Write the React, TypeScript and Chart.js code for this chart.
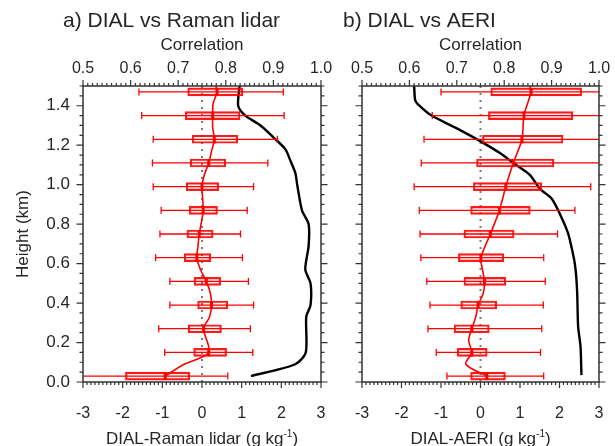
import React, { useEffect, useRef } from 'react';
import { Chart, registerables } from 'chart.js';

Chart.register(...registerables);

const FONT = "'Liberation Sans', Arial, Helvetica, sans-serif";
const TEXT = '#262626';
const RED = '#ff0000';

// Heights (km) of the box plots
const boxHeights = [0.03, 0.15, 0.27, 0.39, 0.51, 0.63, 0.75, 0.87, 0.99, 1.11, 1.23, 1.35, 1.47];

// Panel a: DIAL - Raman lidar (g/kg)
const ramanLow = [-3.2, -0.94, -1.09, -0.81, -0.81, -1.17, -1.06, -1.03, -1.23, -1.25, -1.23, -1.52, -1.59];
const ramanQ1 = [-1.93, -0.21, -0.35, -0.11, -0.2, -0.45, -0.38, -0.32, -0.4, -0.3, -0.25, -0.42, -0.36];
const ramanMedian = [-0.93, 0.17, 0.04, 0.24, 0.11, -0.13, -0.07, 0.03, 0.0, 0.17, 0.31, 0.27, 0.38];
const ramanQ3 = [-0.31, 0.62, 0.49, 0.65, 0.47, 0.22, 0.28, 0.39, 0.42, 0.6, 0.9, 0.96, 1.03];
const ramanHigh = [0.65, 1.28, 1.22, 1.3, 1.17, 1.02, 0.97, 1.14, 1.3, 1.66, 1.9, 2.07, 2.05];
const ramanProfileHeights = [0.03, 0.09, 0.15, 0.27, 0.33, 0.39, 0.45, 0.51, 0.57, 0.63, 0.69, 0.75, 0.87, 0.99, 1.05, 1.11, 1.17, 1.23, 1.29, 1.35, 1.41, 1.47, 1.5];
const ramanProfile = [-0.93, -0.45, 0.17, 0.04, 0.19, 0.24, 0.21, 0.11, -0.04, -0.13, -0.1, -0.07, 0.03, 0.0, 0.06, 0.17, 0.24, 0.31, 0.27, 0.27, 0.28, 0.38, 0.35];
const ramanCorrHeights = [0.03, 0.09, 0.15, 0.33, 0.39, 0.5, 0.57, 0.69, 0.8, 0.87, 1.0, 1.06, 1.12, 1.18, 1.24, 1.3, 1.35, 1.4, 1.5];
const ramanCorr = [0.853, 0.946, 0.968, 0.969, 0.978, 0.978, 0.967, 0.974, 0.974, 0.96, 0.95, 0.946, 0.936, 0.925, 0.9, 0.873, 0.841, 0.826, 0.829];

// Panel b: DIAL - AERI (g/kg)
const aeriLow = [-0.85, -1.12, -1.33, -1.28, -1.36, -1.51, -1.53, -1.55, -1.68, -1.5, -1.43, -1.22, -1.0];
const aeriQ1 = [-0.25, -0.59, -0.67, -0.5, -0.42, -0.56, -0.42, -0.25, -0.18, -0.1, 0.05, 0.2, 0.26];
const aeriMedian = [0.16, -0.22, -0.22, -0.06, 0.1, 0.01, 0.25, 0.48, 0.64, 0.83, 1.05, 1.1, 1.28];
const aeriQ3 = [0.63, 0.17, 0.22, 0.41, 0.64, 0.59, 0.85, 1.26, 1.55, 1.86, 2.09, 2.34, 2.56];
const aeriHigh = [1.6, 1.52, 1.55, 1.59, 1.64, 1.6, 1.95, 2.39, 2.79, 3.2, 3.2, 3.2, 3.2];
const aeriProfileHeights = [0.03, 0.09, 0.15, 0.21, 0.27, 0.33, 0.39, 0.45, 0.51, 0.57, 0.63, 0.75, 0.87, 0.99, 1.11, 1.23, 1.35, 1.47, 1.5];
const aeriProfile = [0.16, -0.37, -0.22, -0.3, -0.22, -0.12, -0.06, 0.07, 0.1, 0.05, 0.01, 0.25, 0.48, 0.64, 0.83, 1.05, 1.1, 1.28, 1.25];
const aeriCorrHeights = [0.035, 0.18, 0.28, 0.45, 0.533, 0.6, 0.65, 0.752, 0.854, 0.93, 0.98, 1.05, 1.11, 1.16, 1.217, 1.285, 1.35, 1.41, 1.43, 1.5];
const aeriCorr = [0.963, 0.961, 0.956, 0.954, 0.952, 0.949, 0.945, 0.935, 0.917, 0.9, 0.875, 0.854, 0.819, 0.791, 0.752, 0.7, 0.647, 0.617, 0.612, 0.61];

// Axis settings
const diffMin = -3;
const diffMax = 3;
const corrMin = 0.5;
const corrMax = 1.0;
const heightMin = 0;
const heightMax = 1.5;

type Panel = {
  title: string;
  titleX: number;
  xTitle: string;
  low: number[]; q1: number[]; median: number[]; q3: number[]; high: number[];
  profH: number[]; prof: number[];
  corrH: number[]; corr: number[];
  yLabels: boolean;
  leftW: number; rightW: number;
  width: number;
};

const panels: Panel[] = [
  {
    title: 'a) DIAL vs Raman lidar', titleX: 63, xTitle: 'DIAL-Raman lidar (g kg',
    low: ramanLow, q1: ramanQ1, median: ramanMedian, q3: ramanQ3, high: ramanHigh,
    profH: ramanProfileHeights, prof: ramanProfile, corrH: ramanCorrHeights, corr: ramanCorr,
    yLabels: true, leftW: 83, rightW: 20, width: 341,
  },
  {
    title: 'b) DIAL vs AERI', titleX: 2, xTitle: 'DIAL-AERI (g kg',
    low: aeriLow, q1: aeriQ1, median: aeriMedian, q3: aeriQ3, high: aeriHigh,
    profH: aeriProfileHeights, prof: aeriProfile, corrH: aeriCorrHeights, corr: aeriCorr,
    yLabels: false, leftW: 21, rightW: 16, width: 274,
  },
];

const hiddenTicks = (len: number) => ({
  display: true,
  drawOnChartArea: false,
  drawTicks: true,
  tickLength: len,
  color: 'rgba(0,0,0,0)',
});

function framePlugin(p: Panel) {
  return {
    id: 'frameAndText',
    afterDraw(chart: any) {
      const { ctx, chartArea: a, scales } = chart;
      ctx.save();
      ctx.strokeStyle = '#333';
      ctx.lineWidth = 1.5;
      ctx.strokeRect(a.left, a.top, a.right - a.left, a.bottom - a.top);
      ctx.lineWidth = 1.2;
      ctx.beginPath();
      for (let k = 0; k <= 30; k++) {
        const py = scales.y.getPixelForValue(k * 0.05);
        const L = k % 4 === 0 ? 6.5 : 3.5;
        ctx.moveTo(a.left, py); ctx.lineTo(a.left - L, py);
        ctx.moveTo(a.right, py); ctx.lineTo(a.right + L, py);
      }
      for (let k = -30; k <= 30; k++) {
        const px = scales.x.getPixelForValue(k / 10);
        const L = k % 10 === 0 ? 6 : 3;
        ctx.moveTo(px, a.bottom); ctx.lineTo(px, a.bottom + L);
      }
      for (let k = 50; k <= 100; k++) {
        const px = scales.x2.getPixelForValue(k / 100);
        const L = k % 10 === 0 ? 6 : 3;
        ctx.moveTo(px, a.top); ctx.lineTo(px, a.top - L);
      }
      ctx.stroke();

      // panel title
      ctx.fillStyle = TEXT;
      ctx.textBaseline = 'middle';
      ctx.textAlign = 'left';
      ctx.font = `21px ${FONT}`;
      ctx.fillText(p.title, p.titleX, 21.5);

      // bottom axis title with superscript
      const mainFont = `17px ${FONT}`;
      const supFont = `10px ${FONT}`;
      ctx.textBaseline = 'alphabetic';
      ctx.font = mainFont;
      const w1 = ctx.measureText(p.xTitle).width;
      const w3 = ctx.measureText(')').width;
      ctx.font = supFont;
      const w2 = ctx.measureText('-1').width;
      const cx = (a.left + a.right) / 2;
      let x0 = cx - (w1 + w2 + w3) / 2;
      ctx.font = mainFont;
      ctx.fillText(p.xTitle, x0, 444);
      x0 += w1;
      ctx.font = supFont;
      ctx.fillText('-1', x0, 437);
      x0 += w2;
      ctx.font = mainFont;
      ctx.fillText(')', x0, 444);
      ctx.restore();
    },
  };
}

function makeConfig(p: Panel): any {
  const whiskers: { x: number; y: number }[] = [];
  boxHeights.forEach((h, i) => {
    whiskers.push({ x: p.low[i], y: h }, { x: p.high[i], y: h }, { x: NaN, y: NaN });
  });
  return {
    type: 'bar',
    data: {
      datasets: [
        {
          type: 'line',
          data: boxHeights.map((h, i) => ({ x: p.median[i], y: h })),
          showLine: false,
          pointStyle: 'line',
          pointRotation: 90,
          pointRadius: 4,
          pointBorderWidth: 3,
          pointBorderColor: RED,
          borderColor: RED,
          xAxisID: 'x', yAxisID: 'y',
        },
        {
          type: 'line',
          data: p.profH.map((h, i) => ({ x: p.prof[i], y: h })),
          borderColor: RED,
          borderWidth: 1.6,
          pointRadius: 0,
          tension: 0.3,
          xAxisID: 'x', yAxisID: 'y',
        },
        {
          type: 'bar',
          data: boxHeights.map((h, i) => ({ x: [p.q1[i], p.q3[i]], y: h })),
          backgroundColor: 'rgba(255,0,0,0.05)',
          borderColor: 'rgba(255,0,0,0.9)',
          borderWidth: 1.5,
          borderSkipped: false,
          barThickness: 8,
          xAxisID: 'x', yAxisID: 'y',
        },
        {
          type: 'line',
          data: whiskers,
          borderColor: RED,
          borderWidth: 1.3,
          pointStyle: 'line',
          pointRotation: 90,
          pointRadius: 3.5,
          pointBorderWidth: 1.3,
          pointBorderColor: RED,
          spanGaps: false,
          clip: 0,
          xAxisID: 'x', yAxisID: 'y',
        },
        {
          type: 'line',
          data: p.corrH.map((h, i) => ({ x: p.corr[i], y: h })),
          borderColor: '#000',
          borderWidth: 2.4,
          pointRadius: 0,
          tension: 0.25,
          xAxisID: 'x2', yAxisID: 'y',
        },
        {
          type: 'line',
          data: [{ x: 0, y: heightMin }, { x: 0, y: heightMax }],
          borderColor: '#7a7a7a',
          borderWidth: 2,
          borderDash: [2, 5],
          pointRadius: 0,
          xAxisID: 'x', yAxisID: 'y',
        },
      ],
    },
    options: {
      responsive: false,
      animation: false,
      devicePixelRatio: 1,
      indexAxis: 'y',
      events: [],
      layout: { padding: 0 },
      plugins: { legend: { display: false }, tooltip: { enabled: false }, title: { display: false } },
      scales: {
        x: {
          type: 'linear', position: 'bottom', min: diffMin, max: diffMax, offset: false,
          grid: hiddenTicks(21.5), border: { display: false },
          ticks: { stepSize: 1, maxRotation: 0, autoSkip: false, padding: 0, color: TEXT, font: { size: 16, family: FONT } },
          afterFit: (s: any) => { s.height = 64; },
        },
        x2: {
          type: 'linear', position: 'top', min: corrMin, max: corrMax, offset: false,
          grid: { display: false }, border: { display: false },
          ticks: { stepSize: 0.1, maxRotation: 0, autoSkip: false, padding: 0, color: TEXT, font: { size: 16, family: FONT }, callback: (v: any) => Number(v).toFixed(1) },
          title: { display: true, text: 'Correlation', color: TEXT, font: { size: 17, family: FONT }, padding: { top: 35.3, bottom: 0 } },
          afterFit: (s: any) => { s.height = 86; },
        },
        y: {
          type: 'linear', position: 'left', min: heightMin, max: heightMax, offset: false,
          grid: hiddenTicks(13), border: { display: false },
          ticks: { display: p.yLabels, stepSize: 0.2, includeBounds: false, padding: 0, color: TEXT, font: { size: 17, family: FONT }, callback: (v: any) => Number(v).toFixed(1) },
          title: { display: p.yLabels, text: 'Height (km)', color: TEXT, font: { size: 17, family: FONT }, padding: { top: 12.8, bottom: 0 } },
          afterFit: (s: any) => { s.width = p.leftW; },
        },
        y2: {
          type: 'linear', position: 'right', min: heightMin, max: heightMax, offset: false,
          grid: { display: false }, border: { display: false },
          ticks: { display: false },
          afterFit: (s: any) => { s.width = p.rightW; },
        },
      },
    },
    plugins: [framePlugin(p)],
  };
}

function PanelChart({ p, left }: { p: Panel; left: number }) {
  const ref = useRef<HTMLCanvasElement | null>(null);
  useEffect(() => {
    if (!ref.current) return;
    const chart = new Chart(ref.current, makeConfig(p));
    return () => chart.destroy();
  }, [p]);
  return (
    <canvas
      ref={ref}
      width={p.width}
      height={446}
      style={{ position: 'absolute', left, top: 0, width: p.width, height: 446 }}
    />
  );
}

export default function App() {
  Chart.defaults.font.family = FONT;
  return (
    <div style={{ position: 'absolute', left: 0, top: 0, width: 615, height: 446, background: '#fff', overflow: 'hidden' }}>
      <PanelChart p={panels[0]} left={0} />
      <PanelChart p={panels[1]} left={341} />
    </div>
  );
}
